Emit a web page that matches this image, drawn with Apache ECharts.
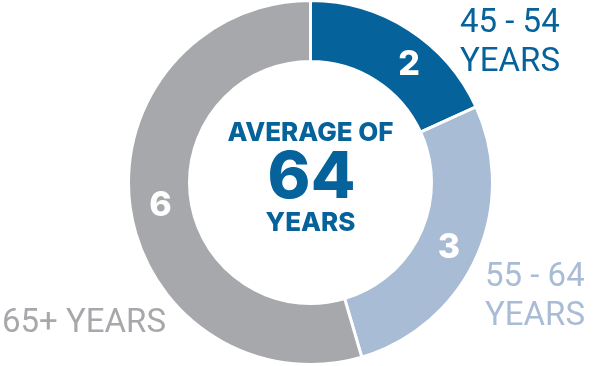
<!DOCTYPE html>
<html>
<head>
<meta charset="utf-8">
<script src="https://cdn.jsdelivr.net/npm/echarts@6/dist/echarts.min.js"></script>
<style>html,body{margin:0;padding:0;background:#fff}#c{width:603px;height:366px}</style>
</head>
<body>
<div id="c"></div>
<script>
const categories = ['45 - 54\nYEARS', '55 - 64\nYEARS', '65+ YEARS'];
const values = [2, 3, 6];
const colors = ['#05629B', '#A9BCD6', '#A7A8AB'];
const centerLines = ['AVERAGE OF', '64', 'YEARS'];

const CX = 310.5, CY = 182.5;
const outerLabelPos = [
  {x: 460, y: 43},
  {x: 485, y: 297},
  {x: 2, y: 324}
];
const numberShift = [{dx: 15, dy: 12}, {dx: -2, dy: 1}, {dx: 3, dy: 1}];

const chart = echarts.init(document.getElementById('c'), null, {renderer: 'canvas'});
const data = categories.map((n, i) => ({name: n, value: values[i], itemStyle: {color: colors[i]}}));

chart.setOption({
  animation: false,
  series: [
    {
      type: 'pie',
      center: [CX, CY],
      radius: [121, 182],
      startAngle: 90,
      clockwise: true,
      avoidLabelOverlap: false,
      silent: true,
      itemStyle: {borderColor: '#fff', borderWidth: 3},
      label: {
        show: true,
        position: 'inside',
        formatter: '{c}',
        color: '#fff',
        fontFamily: 'Inter',
        fontWeight: 800,
        fontSize: 34
      },
      labelLine: {show: false},
      labelLayout: p => numberShift[p.dataIndex],
      data: data
    },
    {
      type: 'pie',
      center: [CX, CY],
      radius: [121, 182],
      startAngle: 90,
      clockwise: true,
      silent: true,
      avoidLabelOverlap: false,
      z: 1,
      itemStyle: {color: 'transparent', borderWidth: 0},
      label: {
        show: true,
        position: 'outside',
        formatter: '{b}',
        fontFamily: 'Roboto',
        fontWeight: 400,
        fontSize: 33,
        lineHeight: 39,
        overflow: 'none',
        width: 200
      },
      labelLine: {show: false},
      labelLayout: p => ({
        x: outerLabelPos[p.dataIndex].x,
        y: outerLabelPos[p.dataIndex].y,
        align: 'left',
        verticalAlign: 'middle'
      }),
      data: categories.map((n, i) => ({
        name: n, value: values[i],
        label: {color: colors[i]},
        itemStyle: {color: 'transparent'}
      }))
    }
  ],
  graphic: [
    {type: 'text', x: 310.5, y: 133, silent: true,
     style: {text: centerLines[0], fill: '#05629B', font: '800 26px Inter', textAlign: 'center', textVerticalAlign: 'middle'}},
    {type: 'text', x: 311.5, y: 178, silent: true,
     style: {text: centerLines[1], fill: '#05629B', font: '800 65px Inter', textAlign: 'center', textVerticalAlign: 'middle'}},
    {type: 'text', x: 310.5, y: 223, silent: true,
     style: {text: centerLines[2], fill: '#05629B', font: '800 26px Inter', textAlign: 'center', textVerticalAlign: 'middle'}}
  ]
});
</script>
</body>
</html>
